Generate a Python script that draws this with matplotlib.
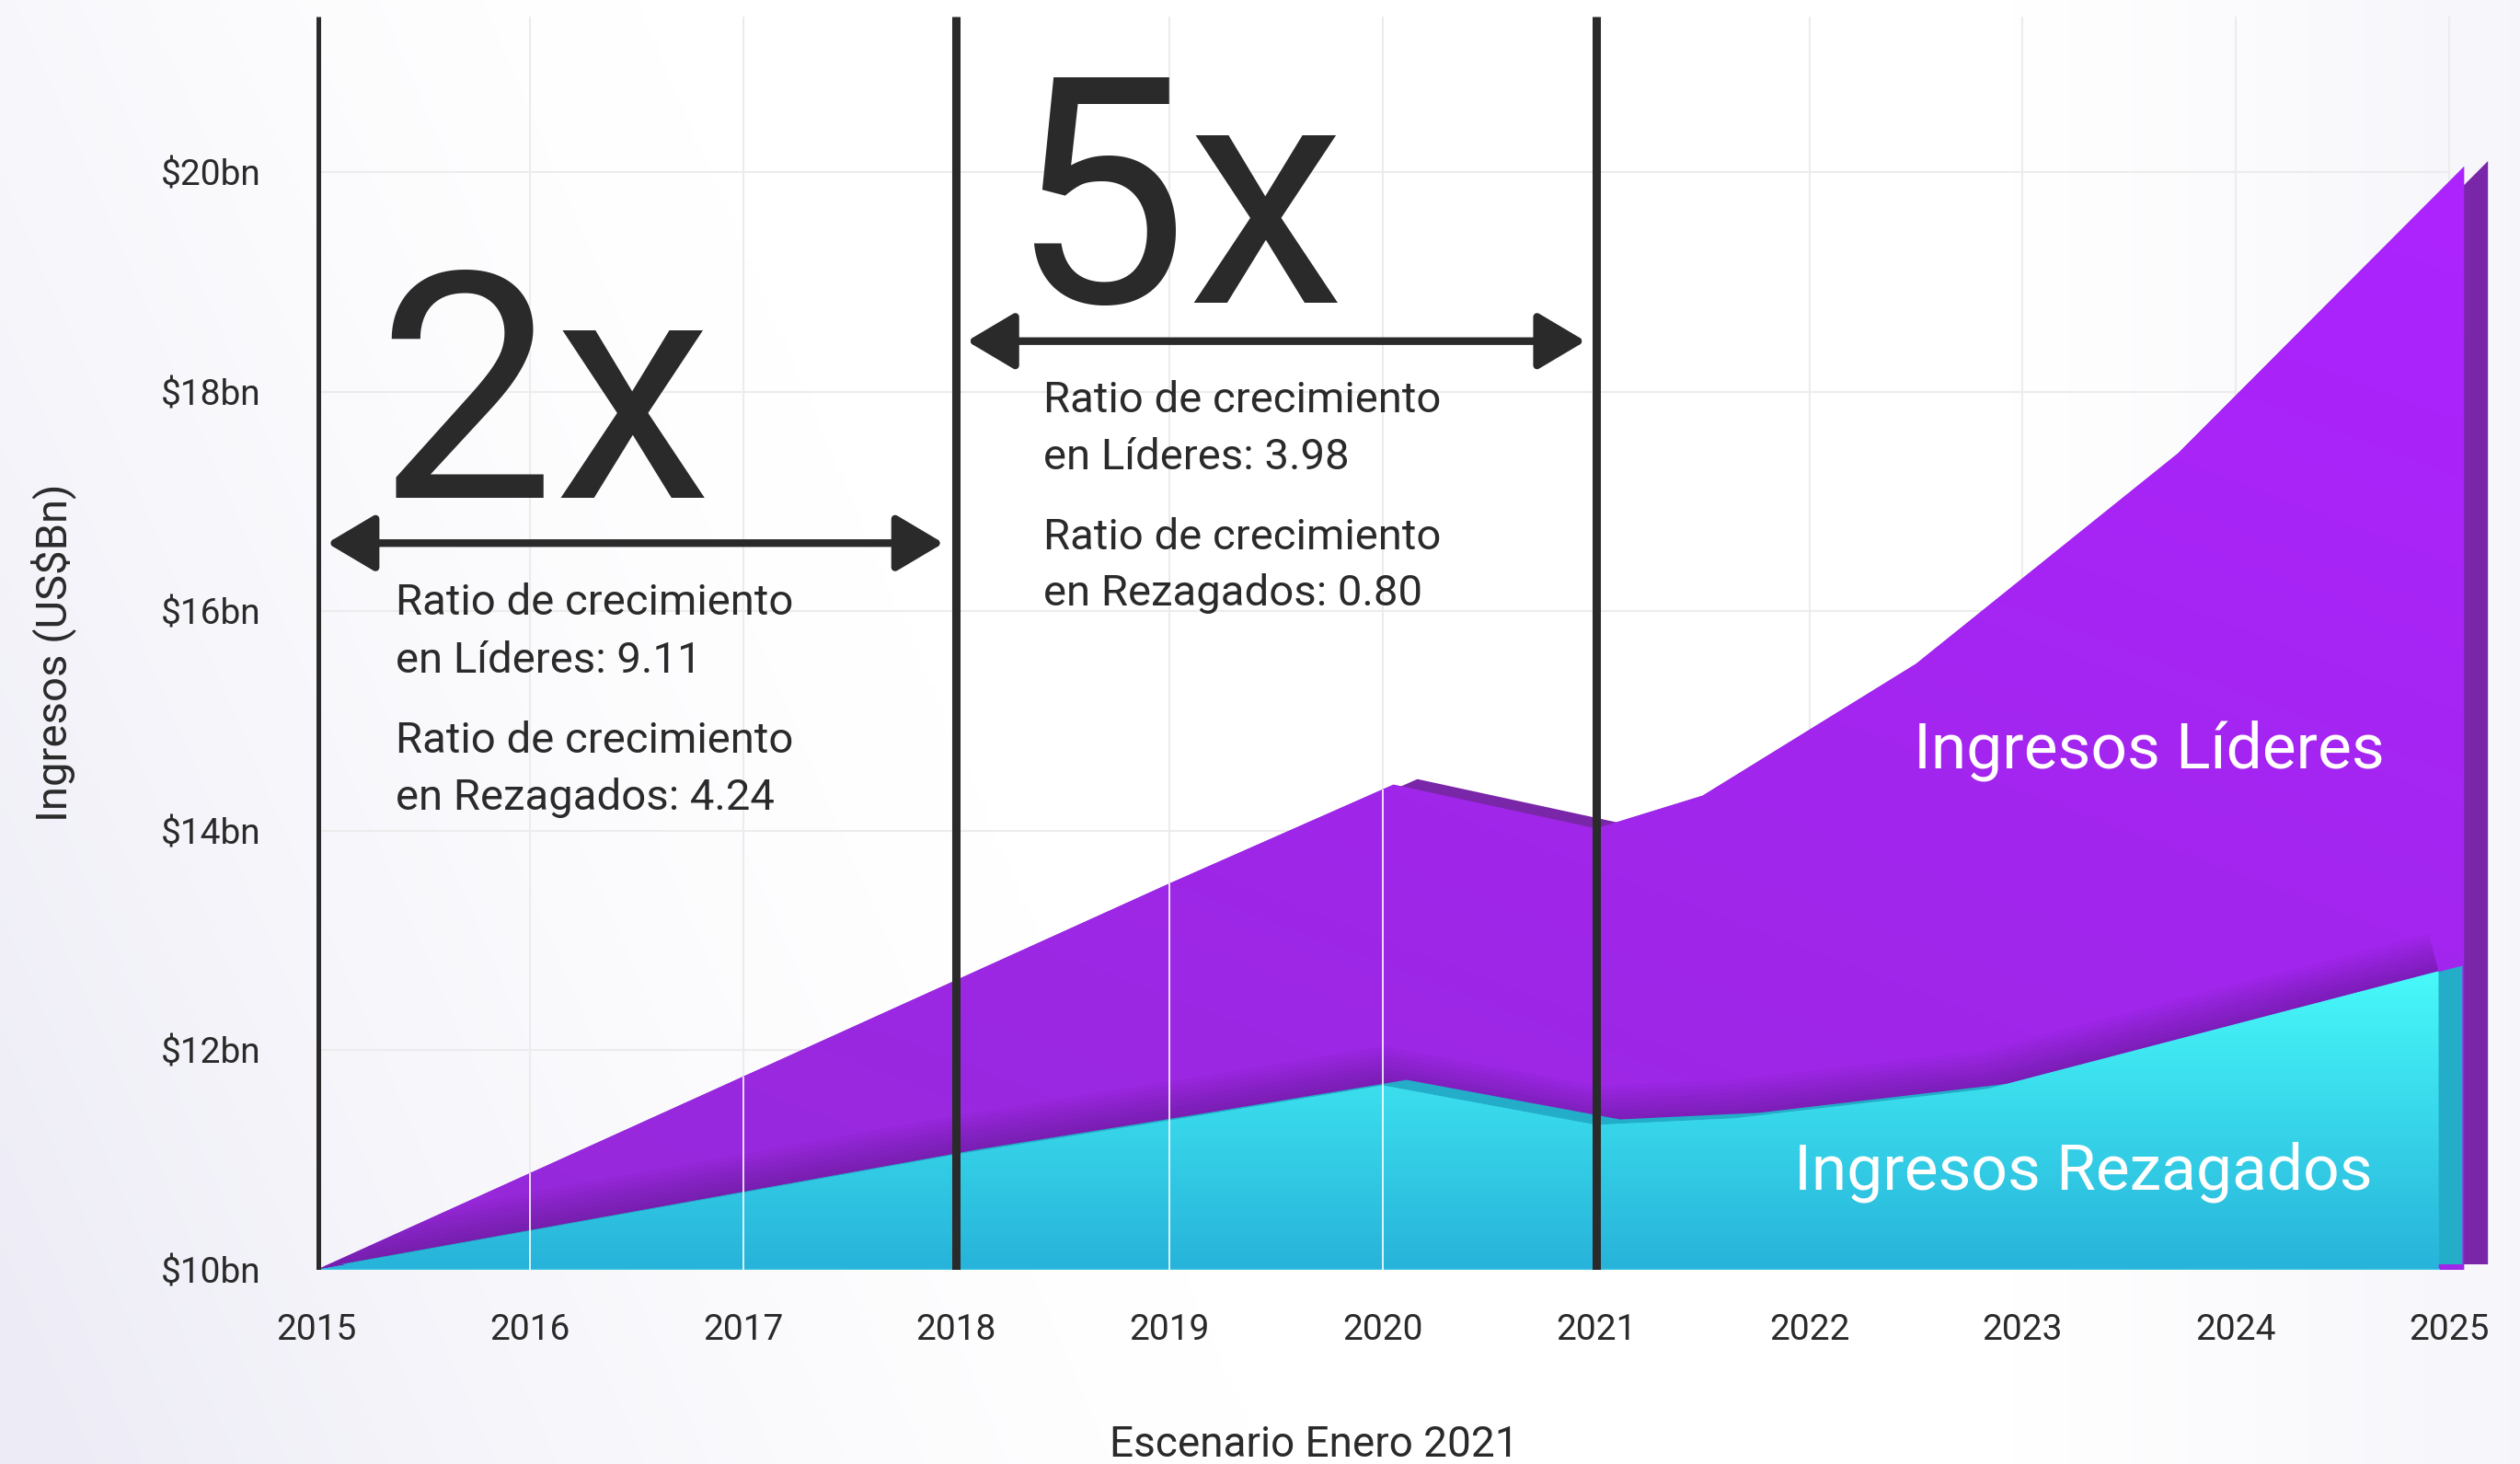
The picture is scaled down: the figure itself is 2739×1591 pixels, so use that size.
import numpy as np
import matplotlib
matplotlib.use('Agg')
import matplotlib.pyplot as plt
import matplotlib.transforms as mtransforms
from matplotlib.patches import Polygon
from matplotlib.colors import to_rgb

plt.rcParams['font.family'] = ['Roboto', 'DejaVu Sans']

# ---- data ----
years = np.arange(2015, 2026)
year_labels = [str(y) for y in years]
y_ticks = [10, 12, 14, 16, 18, 20]
y_tick_labels = ['$10bn', '$12bn', '$14bn', '$16bn', '$18bn', '$20bn']

lid_x = [2015, 2016, 2017, 2018, 2019, 2020.05, 2021, 2021.5, 2022.5, 2023.73, 2025.07]
lid_y = [10.0, 10.88, 11.76, 12.64, 13.52, 14.42, 14.02, 14.32, 15.52, 17.44, 20.05]

rez_x = [2015, 2016, 2017, 2018, 2019, 2020, 2021, 2021.65, 2022.84, 2024.95]
rez_y = [10.0, 10.35, 10.70, 11.05, 11.36, 11.68, 11.32, 11.38, 11.65, 12.72]

period_lines = [2015, 2018, 2021]
white_grid_years = [2016, 2017, 2019, 2020]

text_block_1 = ['Ratio de crecimiento', 'en Líderes: 9.11',
                'Ratio de crecimiento', 'en Rezagados: 4.24']
text_block_1_y = [15.97, 15.44, 14.71, 14.19]
text_block_2 = ['Ratio de crecimiento', 'en Líderes: 3.98',
                'Ratio de crecimiento', 'en Rezagados: 0.80']
text_block_2_y = [17.81, 17.29, 16.56, 16.05]

DARK = '#2a2a2a'
BASE = 10.0
DEPTH = (26, 6)  # extrusion offset in pixels


def area_verts(xs, ys):
    xs = np.asarray(xs, float)
    ys = np.asarray(ys, float)
    return np.column_stack([np.r_[xs, xs[-1], xs[0]], np.r_[ys, BASE, BASE]])


def gradient_rgb(c0, c1, f):
    c0 = np.array(to_rgb(c0))
    c1 = np.array(to_rgb(c1))
    return c0 + (c1 - c0) * f[..., None]


fig = plt.figure(figsize=(27.39, 15.91), dpi=100)
fig.patch.set_facecolor('white')

# soft lavender background
bg = fig.add_axes([0, 0, 1, 1], zorder=-5)
gx, gy = np.meshgrid(np.linspace(0, 1, 300), np.linspace(0, 1, 200))
f_bg = np.clip(1 - (gx + 0.25 * gy) / 0.5, 0, 1) ** 1.4 + 0.45 * np.clip((gx - 0.8) / 0.2, 0, 1)
bg.imshow(gradient_rgb('#ffffff', '#ecebf6', np.clip(f_bg, 0, 1)), extent=[0, 1, 0, 1],
          origin='lower', aspect='auto', interpolation='bilinear')
bg.axis('off')

ax = fig.add_axes([344 / 2739, 211 / 1591, 2387.5 / 2739, 1362.4 / 1591])
ax.set_facecolor('none')
for s in ax.spines.values():
    s.set_visible(False)

# light grid
ax.hlines(y_ticks[1:], 2015, 2025, color='#ececec', lw=1.5, zorder=0.5)
ax.vlines(years[1:], BASE, 21.42, color='#ececec', lw=1.5, zorder=0.5)

back = mtransforms.offset_copy(ax.transData, fig=fig, x=DEPTH[0], y=DEPTH[1], units='dots')

# Lideres slab
ax.add_patch(Polygon(area_verts(lid_x, lid_y), closed=True, facecolor='#7a26a8',
                     edgecolor='none', transform=back, zorder=1))
lid_patch = Polygon(area_verts(lid_x, lid_y), closed=True, facecolor='#9a28de',
                    edgecolor='none', zorder=2)
ax.add_patch(lid_patch)
px, py = np.meshgrid(np.linspace(2015, 2025.3, 256), np.linspace(10, 20.5, 256))
f_p = np.clip(0.55 * (py - 11) / 9 + 0.45 * (px - 2015) / 10, 0, 1)
im = ax.imshow(gradient_rgb('#9629da', '#ad23ff', f_p), extent=[2015, 2025.3, 10, 20.5],
               origin='lower', aspect='auto', interpolation='bilinear', zorder=2.1)
im.set_clip_path(lid_patch)

# shadow cast by the Rezagados slab
for w in np.linspace(60, 6, 9):
    ln, = ax.plot(rez_x, rez_y, color='#3f0f60', lw=w, alpha=0.045,
                  solid_capstyle='butt', zorder=2.5)
    ln.set_clip_path(lid_patch)

# Rezagados slab
ax.add_patch(Polygon(area_verts(rez_x, rez_y), closed=True, facecolor='#23adc8',
                     edgecolor='none', transform=back, zorder=3))
rez_patch = Polygon(area_verts(rez_x, rez_y), closed=True, facecolor='#35d5ea',
                    edgecolor='none', zorder=4)
ax.add_patch(rez_patch)
tx, ty = np.meshgrid(np.linspace(2015, 2025.3, 64), np.linspace(10, 13, 256))
f_t = np.clip((ty - 10) / 2.75, 0, 1)
im2 = ax.imshow(gradient_rgb('#27b3da', '#48fafa', f_t), extent=[2015, 2025.3, 10, 13],
                origin='lower', aspect='auto', interpolation='bilinear', zorder=4.1)
im2.set_clip_path(rez_patch)
ax.plot([2015, rez_x[-1]], [BASE, BASE], color='#3ec6e6', lw=2.5, zorder=4.5)

# white grid lines over the fills
ax.vlines(white_grid_years, BASE, np.interp(white_grid_years, lid_x, lid_y),
          color='white', lw=1.4, alpha=0.85, zorder=5)

# period separators
ax.vlines(period_lines, BASE, 21.42, color=DARK, lw=6.5, zorder=6)

ax.set_xlim(2015, 2025.3)
ax.set_ylim(10, 21.42)

ax.set_xticks(years, labels=year_labels)
ax.set_yticks(y_ticks, labels=y_tick_labels)
for lbl in ax.get_yticklabels():
    lbl.set_horizontalalignment('left')
ax.tick_params(axis='x', length=0, pad=34, labelsize=28, labelcolor=DARK)
ax.tick_params(axis='y', length=0, pad=122, labelsize=28, labelcolor=DARK)

# arrows + multipliers
arrow_style = dict(arrowstyle='<|-|>,head_length=1.6,head_width=0.95', mutation_scale=20,
                   lw=6, color=DARK, shrinkA=0, shrinkB=0)
ax.annotate('', xy=(2015.05, 16.62), xytext=(2017.94, 16.62), arrowprops=arrow_style, zorder=7)
ax.annotate('', xy=(2018.05, 18.46), xytext=(2020.95, 18.46), arrowprops=arrow_style, zorder=7)

ax.text(2015.28, 17.03, '2x', fontsize=248, color=DARK, ha='left', va='baseline', zorder=7)
ax.text(2018.25, 18.81, '5x', fontsize=248, color=DARK, ha='left', va='baseline', zorder=7)

for s, y in zip(text_block_1, text_block_1_y):
    ax.text(2015.37, y, s, fontsize=34, color=DARK, ha='left', va='baseline', zorder=7)
for s, y in zip(text_block_2, text_block_2_y):
    ax.text(2018.41, y, s, fontsize=34, color=DARK, ha='left', va='baseline', zorder=7)

ax.text(2022.49, 14.57, 'Ingresos Líderes', fontsize=50, color='white',
        ha='left', va='baseline', zorder=7)
ax.text(2021.93, 10.73, 'Ingresos Rezagados', fontsize=50, color='white',
        ha='left', va='baseline', zorder=7)

fig.text(0.0212, 0.554, 'Ingresos (US$Bn)', rotation=90, fontsize=34, color=DARK,
         ha='center', va='center')
fig.text(0.5214, 0.005, 'Escenario Enero 2021', fontsize=33, color=DARK,
         ha='center', va='baseline')

fig.savefig('out.png', dpi=100)
plt.close(fig)
